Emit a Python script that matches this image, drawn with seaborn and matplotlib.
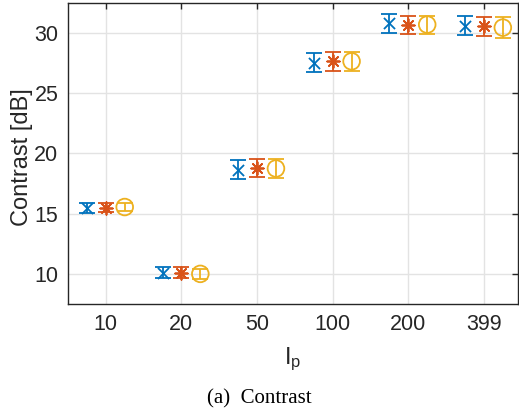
import numpy as np
import pandas as pd
import matplotlib
matplotlib.use("Agg")
import matplotlib.pyplot as plt
import seaborn as sns

# Contrast measurements per I_p setting, three methods
ip_labels = ["10", "20", "50", "100", "200", "399"]
series_names = ["A", "B", "C"]
contrast_a = [15.45, 10.1, 18.65, 27.55, 30.8, 30.6]
contrast_b = [15.5, 10.1, 18.8, 27.65, 30.7, 30.55]
contrast_c = [15.55, 10.0, 18.75, 27.65, 30.7, 30.45]
err_a = [0.4, 0.45, 0.8, 0.8, 0.8, 0.8]
err_b = [0.4, 0.45, 0.75, 0.8, 0.75, 0.8]
err_c = [0.35, 0.4, 0.75, 0.8, 0.75, 0.85]

colors = ["#0072BD", "#D95319", "#EDB120"]
markers = ["x", (8, 2, 0), "o"]
msizes = [8, 9, 12]
offsets = [-0.25, 0.0, 0.25]

rows = []
for name, vals, errs in zip(series_names,
                            [contrast_a, contrast_b, contrast_c],
                            [err_a, err_b, err_c]):
    for i, (lab, v, e) in enumerate(zip(ip_labels, vals, errs)):
        rows.append({"series": name, "idx": i + 1, "ip": lab,
                     "contrast": v, "err": e})
df = pd.DataFrame(rows)

sns.set_theme(style="whitegrid")
plt.rcParams["font.family"] = ["Liberation Sans", "DejaVu Sans"]
plt.rcParams["mathtext.fontset"] = "custom"
plt.rcParams["mathtext.rm"] = "Liberation Sans"

fig = plt.figure(figsize=(5.19, 4.15), dpi=100)
ax = fig.add_axes([0.131, 0.2675, 0.867, 0.7255])

for name, col, mk, ms, off in zip(series_names, colors, markers, msizes, offsets):
    d = df[df["series"] == name]
    ax.errorbar(d["idx"] + off, d["contrast"], yerr=d["err"],
                fmt="none", ecolor=col, elinewidth=1.3, capsize=6,
                capthick=1.3, zorder=3)
    sns.scatterplot(x=d["idx"] + off, y=d["contrast"], ax=ax,
                    marker=mk, s=ms ** 2,
                    facecolors="none" if mk == "o" else col,
                    edgecolor=col, color=col, linewidth=1.3,
                    zorder=4, legend=False)

ax.set_xlim(0.5, 6.45)
ax.set_ylim(7.5, 32.5)
ax.set_xticks(range(1, len(ip_labels) + 1))
ax.set_xticklabels(ip_labels)
ax.set_yticks([10, 15, 20, 25, 30])

ax.grid(True, color="#e3e3e3", linewidth=1.0)
ax.set_axisbelow(True)
for sp in ax.spines.values():
    sp.set_color("#262626")
    sp.set_linewidth(1.0)
ax.tick_params(direction="in", length=4, width=1.0, color="#262626",
               labelsize=15.5, labelcolor="#262626", top=True, right=True,
               pad=7)

ax.set_xlabel(r"$\mathregular{I_p}$", fontsize=17, color="#262626", labelpad=8)
ax.set_ylabel("Contrast [dB]", fontsize=17, color="#262626")
ax.yaxis.set_label_coords(-0.078, 0.488)

fig.text(0.5, 0.04, "(a)  Contrast", ha="center", va="center",
         fontsize=15, family=["Liberation Serif", "DejaVu Serif"], color="black")

fig.savefig("out.png", dpi=100)
